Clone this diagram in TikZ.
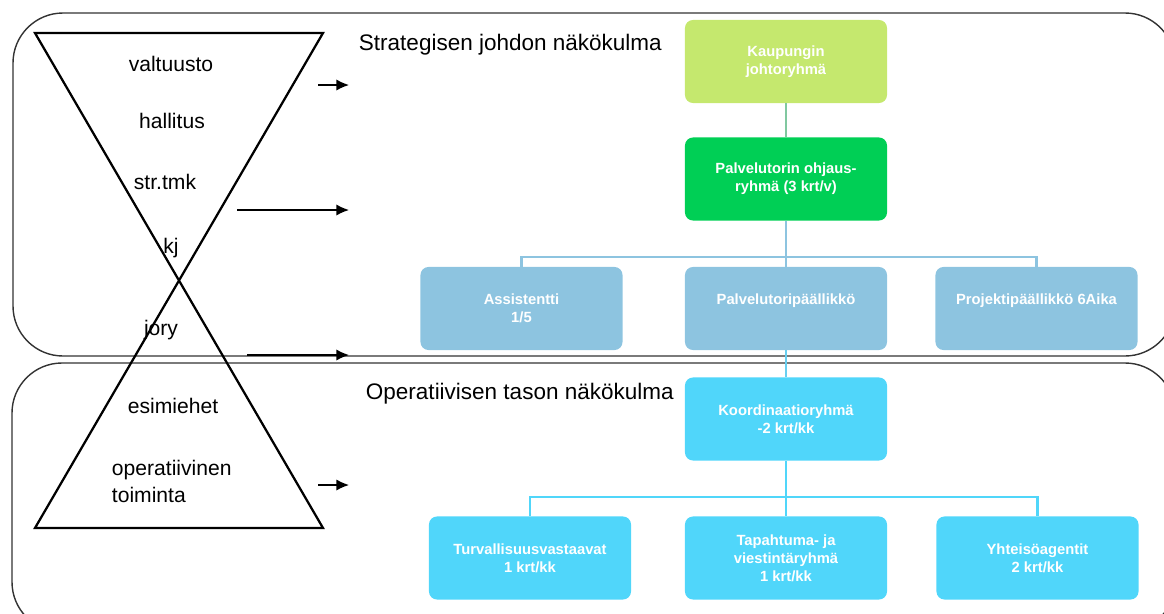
\documentclass[tikz,border=0pt]{standalone}
\usepackage{fontspec}
\setmainfont{Liberation Sans}
\usepackage{xcolor}
\usepackage{tikz}
\usetikzlibrary{arrows.meta}
\definecolor{leaderlime}{HTML}{C5E86E}
\definecolor{steergreen}{HTML}{00CF55}
\definecolor{staffblue}{HTML}{8DC4E0}
\definecolor{opcyan}{HTML}{50D6FA}
\definecolor{stemgreen}{HTML}{80C8A0}
\newcommand{\boxfont}{\fontsize{10.5}{12.8}\selectfont\bfseries}
\newcommand{\levelfont}{\fontsize{15}{19}\selectfont}
\newcommand{\viewfont}{\fontsize{16}{19}\selectfont}

\begin{document}
\begin{tikzpicture}[x=0.025cm, y=-0.025cm,
    orgbox/.style={rounded corners=0.2cm, minimum width=5.05cm, minimum height=2.075cm,
      inner sep=0pt, align=center, text=white, font=\boxfont},
    frame/.style={draw=black!80, line width=1pt, rounded corners=1.25cm},
    level/.style={anchor=base, font=\levelfont},
    flowarrow/.style={-{Latex[length=9pt, width=8pt]}, line width=1pt},
    stem/.style={line width=1.6pt}]
  \useasboundingbox (0,0) rectangle (1164,613);
  \clip (0,0) rectangle (1164,613);

  % the two views
  \draw[frame] (13,13) rectangle (1175,356);
  \draw[frame] (12,363) rectangle (1175,632);

  % hourglass of levels
  \coordinate (tl) at (35,33);
  \coordinate (tr) at (323,33);
  \coordinate (bl) at (35,528);
  \coordinate (br) at (323,528);
  \draw[line width=1.6pt, line join=miter] (tl) -- (tr) -- (bl) -- (br) -- cycle;

  \node[level] (valt) at (171,71) {valtuusto};
  \node[level] (hall) at (172,128) {hallitus};
  \node[level] (strtmk) at (165,189) {str.tmk};
  \node[level] (kj) at (171,253) {kj};
  \node[level] (jory) at (161,335) {jory};
  \node[level] (esim) at (173,413) {esimiehet};
  \node[level, anchor=base west] (oper1) at (107,475) {operatiivinen};
  \node[level, anchor=base west] (oper2) at (107,502) {toiminta};

  \foreach \n/\xa/\ya in {a/318/85, b/237/210, c/247/355, d/318/485} {
    \coordinate (arr\n s) at (\xa,\ya);
    \coordinate (arr\n e) at (349,\ya);
    \draw[flowarrow] (arr\n s) -- (arr\n e);
  }

  \node[anchor=base west, font=\viewfont] (strat) at (354,50) {Strategisen johdon näkökulma};
  \node[anchor=base west, font=\viewfont] (opview) at (361,399) {Operatiivisen tason näkökulma};

  % organisation chart
  \node[orgbox, fill=leaderlime] (kjr) at (786,61.5) {Kaupungin\\johtoryhmä};
  \node[orgbox, fill=steergreen] (ohj) at (786,179) {Palvelutorin ohjaus-\\ryhmä (3 krt/v)};
  \node[orgbox, fill=staffblue] (ass) at (521.5,308.5) {Assistentti\\1/5};
  \node[orgbox, fill=staffblue] (ptp) at (786,308.5) {Palvelutoripäällikkö\\\mbox{}};
  \node[orgbox, fill=staffblue] (pjp) at (1036.5,308.5) {Projektipäällikkö 6Aika\\\mbox{}};
  \node[orgbox, fill=opcyan] (koo) at (786,419) {Koordinaatioryhmä\\-2 krt/kk};
  \node[orgbox, fill=opcyan] (tur) at (530,558) {Turvallisuusvastaavat\\1 krt/kk};
  \node[orgbox, fill=opcyan] (tap) at (786,558) {Tapahtuma- ja\\viestintäryhmä\\1 krt/kk};
  \node[orgbox, fill=opcyan] (yht) at (1037.5,558) {Yhteisöagentit\\2 krt/kk};

  \draw[stem, draw=stemgreen] (kjr) -- (ohj);
  \coordinate (staffbus) at (786,257);
  \draw[stem, draw=staffblue] (ohj) -- (ptp);
  \foreach \n in {ass,pjp}
    \draw[stem, draw=staffblue] (staffbus) -| (\n.north);
  \draw[stem, draw=opcyan!60!staffblue] (ptp) -- (koo);
  \coordinate (opbus) at (786,497);
  \draw[stem, draw=opcyan] (koo) -- (tap);
  \foreach \n in {tur,yht}
    \draw[stem, draw=opcyan] (opbus) -| (\n.north);
\end{tikzpicture}
\end{document}
